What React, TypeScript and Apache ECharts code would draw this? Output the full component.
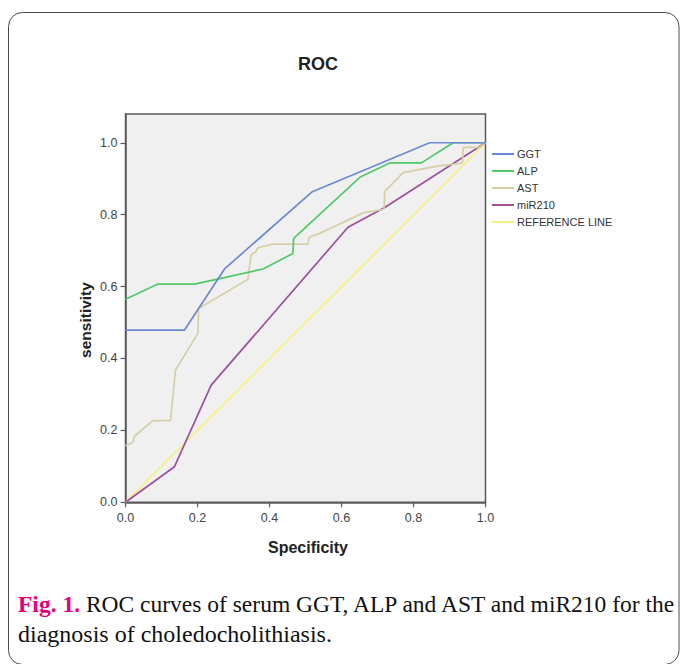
import React, { useEffect, useRef } from "react";
import * as echarts from "echarts";

const seriesNames = ["GGT", "ALP", "AST", "miR210", "REFERENCE LINE"];
const seriesColors = ["#6a8bd4", "#52c966", "#d6cfa6", "#9e4f9e", "#f6f07e"];

const ggt: number[][] = [
  [0, 0.479], [0.164, 0.479], [0.275, 0.649], [0.519, 0.864], [0.845, 1.0], [1.0, 1.0],
];
const alp: number[][] = [
  [0, 0.565], [0.09, 0.607], [0.192, 0.607], [0.382, 0.649], [0.465, 0.692], [0.467, 0.734],
  [0.651, 0.904], [0.734, 0.944], [0.822, 0.944], [0.91, 1.0], [1.0, 1.0],
];
const ast: number[][] = [
  [0, 0.157], [0.016, 0.164], [0.022, 0.17], [0.024, 0.183], [0.076, 0.227], [0.125, 0.227],
  [0.139, 0.368], [0.201, 0.47], [0.203, 0.539], [0.34, 0.62], [0.349, 0.688], [0.362, 0.697],
  [0.368, 0.708], [0.41, 0.718], [0.507, 0.718], [0.51, 0.737], [0.539, 0.748], [0.576, 0.765],
  [0.66, 0.805], [0.718, 0.815], [0.72, 0.864], [0.771, 0.917], [0.855, 0.933], [0.936, 0.944],
  [0.938, 0.987], [0.984, 0.987], [1.0, 1.0],
];
const mir210: number[][] = [
  [0, 0], [0.136, 0.099], [0.238, 0.326], [0.618, 0.765], [0.72, 0.82], [1.0, 1.0],
];
const reference: number[][] = [
  [0, 0], [1, 1],
];
const tickValues = [0, 0.2, 0.4, 0.6, 0.8, 1.0];

const axisFont = "Liberation Sans";

export default function App() {
  const ref = useRef<HTMLDivElement>(null);
  useEffect(() => {
    if (!ref.current) return;
    const chart = echarts.init(ref.current, undefined, { renderer: "svg" });
    const data = [ggt, alp, ast, mir210, reference];
    chart.setOption({
      animation: false,
      backgroundColor: "#ffffff",
      grid: {
        left: 125.5,
        top: 114,
        right: 194.5,
        bottom: 161.7,
        show: true,
        backgroundColor: "#f0f0f0",
        borderColor: "#5a5a5a",
        borderWidth: 1.5,
      },
      xAxis: {
        type: "value",
        min: 0,
        max: 1,
        interval: 0.2,
        splitLine: { show: false },
        axisLine: { show: true, onZero: false, lineStyle: { color: "#5a5a5a", width: 1.5 } },
        axisTick: { show: true, length: 5, lineStyle: { color: "#5a5a5a", width: 1.2 } },
        axisLabel: {
          color: "#444",
          fontFamily: axisFont,
          fontSize: 12.5,
          margin: 9,
          formatter: (v: number) => v.toFixed(1),
        },
      },
      yAxis: {
        type: "value",
        min: 0,
        max: 1.08,
        splitLine: { show: false },
        axisLine: { show: true, onZero: false, lineStyle: { color: "#5a5a5a", width: 1.5 } },
        axisTick: {
          show: true,
          length: 5,
          customValues: tickValues,
          lineStyle: { color: "#5a5a5a", width: 1.2 },
        },
        axisLabel: {
          color: "#444",
          fontFamily: axisFont,
          fontSize: 12.5,
          margin: 8,
          customValues: tickValues,
          formatter: (v: number) => v.toFixed(1),
        },
      },
      legend: {
        orient: "vertical",
        left: 492,
        top: 148,
        padding: 0,
        icon: "rect",
        itemWidth: 22,
        itemHeight: 2,
        itemGap: 5,
        data: seriesNames,
        textStyle: {
          color: "#333",
          fontFamily: axisFont,
          fontSize: 11,
          lineHeight: 12,
          padding: [0, 0, 0, -2],
        },
      },
      series: seriesNames.map((name, i) => ({
        name,
        type: "line",
        data: data[i],
        symbol: "none",
        color: seriesColors[i],
        lineStyle: { color: seriesColors[i], width: 1.7 },
        z: 10 - i,
      })),
      graphic: [
        {
          type: "rect",
          shape: { x: 8.5, y: 12.5, width: 670.5, height: 652, r: 14 },
          style: { fill: "none", stroke: "#4a4a4a", lineWidth: 1 },
          silent: true,
        },
        {
          type: "text",
          x: 318,
          y: 64,
          style: {
            text: "ROC",
            fontFamily: axisFont,
            fontWeight: "bold",
            fontSize: 18,
            fill: "#222",
            align: "center",
            verticalAlign: "middle",
          },
        },
        {
          type: "text",
          x: 308,
          y: 547,
          style: {
            text: "Specificity",
            fontFamily: axisFont,
            fontWeight: "bold",
            fontSize: 16,
            fill: "#222",
            align: "center",
            verticalAlign: "middle",
          },
        },
        {
          type: "text",
          x: 85,
          y: 320,
          rotation: Math.PI / 2,
          style: {
            text: "sensitivity",
            fontFamily: axisFont,
            fontWeight: "bold",
            fontSize: 15.5,
            fill: "#222",
            align: "center",
            verticalAlign: "middle",
          },
        },
        {
          type: "text",
          x: 18,
          y: 604,
          style: {
            text: "{a|Fig. 1.} ROC curves of serum GGT, ALP and AST and miR210 for the",
            fontFamily: "Liberation Serif",
            fontSize: 23.5,
            fill: "#111",
            verticalAlign: "middle",
            rich: {
              a: {
                fontFamily: "Liberation Serif",
                fontSize: 23.5,
                fontWeight: "bold",
                fill: "#e5007d",
              },
            },
          },
        },
        {
          type: "text",
          x: 18,
          y: 634,
          style: {
            text: "diagnosis of choledocholithiasis.",
            fontFamily: "Liberation Serif",
            fontSize: 24,
            fill: "#111",
            verticalAlign: "middle",
          },
        },
      ],
    });
    return () => chart.dispose();
  }, []);
  return (
    <div style={{ position: "fixed", left: 0, top: 0, width: 680, height: 664, overflow: "hidden", background: "#fff" }}>
      <div ref={ref} style={{ width: 680, height: 664 }} />
    </div>
  );
}
